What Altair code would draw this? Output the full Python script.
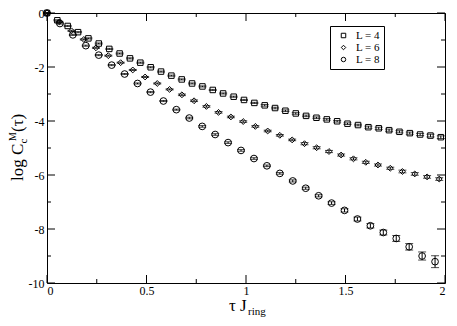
import altair as alt
import pandas as pd

# ---------------- data ----------------
series_names = ["L = 4", "L = 6", "L = 8"]
series_shapes = ["square", "diamond", "circle"]
series_sizes = [30, 34, 45]

x_L4 = [0, 0.052, 0.104, 0.156, 0.208, 0.26, 0.313, 0.365, 0.417, 0.469,
        0.521, 0.573, 0.625, 0.677, 0.729, 0.781, 0.833, 0.885, 0.938, 0.99,
        1.042, 1.094, 1.146, 1.198, 1.25, 1.302, 1.354, 1.406, 1.458, 1.51,
        1.563, 1.615, 1.667, 1.719, 1.771, 1.823, 1.875, 1.927, 1.979]
y_L4 = [0, -0.27, -0.48, -0.71, -0.94, -1.13, -1.33, -1.50, -1.68, -1.84,
        -2.01, -2.17, -2.32, -2.46, -2.61, -2.72, -2.85, -2.98, -3.10, -3.22,
        -3.33, -3.42, -3.52, -3.62, -3.72, -3.81, -3.88, -3.94, -4.01, -4.10,
        -4.15, -4.23, -4.27, -4.34, -4.40, -4.45, -4.50, -4.54, -4.60]
e_L4 = [0, 0.02, 0.02, 0.02, 0.02, 0.02, 0.02, 0.02, 0.02, 0.02,
        0.02, 0.02, 0.02, 0.02, 0.02, 0.02, 0.02, 0.02, 0.02, 0.02,
        0.02, 0.03, 0.03, 0.03, 0.03, 0.03, 0.03, 0.03, 0.03, 0.03,
        0.03, 0.04, 0.04, 0.04, 0.04, 0.04, 0.04, 0.05, 0.05]

x_L6 = [0, 0.062, 0.123, 0.185, 0.246, 0.308, 0.37, 0.431, 0.493, 0.554,
        0.616, 0.678, 0.739, 0.801, 0.862, 0.924, 0.986, 1.047, 1.109, 1.17,
        1.232, 1.294, 1.355, 1.417, 1.478, 1.54, 1.602, 1.663, 1.725, 1.786,
        1.848, 1.91, 1.971]
y_L6 = [0, -0.33, -0.66, -0.98, -1.29, -1.58, -1.84, -2.11, -2.37, -2.61,
        -2.83, -3.03, -3.25, -3.46, -3.68, -3.85, -4.02, -4.20, -4.37, -4.53,
        -4.70, -4.84, -4.99, -5.13, -5.26, -5.40, -5.53, -5.63, -5.75, -5.87,
        -5.96, -6.07, -6.15]
e_L6 = [0, 0.02, 0.02, 0.02, 0.02, 0.02, 0.02, 0.02, 0.02, 0.02,
        0.02, 0.03, 0.03, 0.03, 0.03, 0.03, 0.03, 0.03, 0.03, 0.03,
        0.03, 0.04, 0.04, 0.04, 0.04, 0.04, 0.04, 0.04, 0.04, 0.05,
        0.05, 0.05, 0.05]

x_L8 = [0, 0.065, 0.13, 0.195, 0.26, 0.325, 0.39, 0.455, 0.52, 0.585,
        0.65, 0.715, 0.78, 0.845, 0.91, 0.975, 1.04, 1.105, 1.17, 1.235,
        1.3, 1.365, 1.43, 1.495, 1.56, 1.625, 1.69, 1.755, 1.82, 1.885, 1.95]
y_L8 = [0, -0.39, -0.81, -1.21, -1.56, -1.93, -2.26, -2.61, -2.93, -3.26,
        -3.58, -3.89, -4.20, -4.50, -4.80, -5.09, -5.39, -5.66, -5.94, -6.22,
        -6.49, -6.77, -7.04, -7.31, -7.63, -7.88, -8.13, -8.35, -8.66, -9.00, -9.21]
e_L8 = [0, 0.02, 0.02, 0.02, 0.02, 0.02, 0.02, 0.02, 0.02, 0.02,
        0.02, 0.03, 0.03, 0.03, 0.03, 0.03, 0.03, 0.03, 0.03, 0.04,
        0.04, 0.04, 0.05, 0.06, 0.07, 0.08, 0.09, 0.11, 0.12, 0.15, 0.22]

x_major = [0, 0.5, 1, 1.5, 2]
x_minor = [0.25, 0.75, 1.25, 1.75]
y_major = [0, -2, -4, -6, -8, -10]
y_minor = [-1, -3, -5, -7, -9]

# ---------------- build table ----------------
frames = []
for name, sz, xs_, ys_, es_ in zip(series_names, series_sizes, [x_L4, x_L6, x_L8],
                                   [y_L4, y_L6, y_L8], [e_L4, e_L6, e_L8]):
    frames.append(pd.DataFrame({"series": name, "sz": sz, "x": xs_, "y": ys_, "e": es_}))
df = pd.concat(frames, ignore_index=True)
df["lo"] = df["y"] - df["e"]
df["hi"] = df["y"] + df["e"]

W, H = 398, 270
FONT = "Liberation Serif"

xs = alt.Scale(domain=[0, 2], nice=False, zero=False)
ys = alt.Scale(domain=[-10, 0], nice=False, zero=False)
AX = alt.Axis(values=x_major, labelExpr="'' + datum.value", ticks=False, domain=False,
              grid=False, labelPadding=2, labelFont=FONT, labelFontSize=12,
              labelColor="black")
AY = alt.Axis(values=y_major, labelExpr="'' + datum.value", ticks=False, domain=False,
              grid=False, labelPadding=3, labelFont=FONT, labelFontSize=12,
              labelColor="black")


def X(f):
    return alt.X(f, scale=xs, axis=AX, title=None)


def Y(f):
    return alt.Y(f, scale=ys, axis=AY, title=None)


base = alt.Chart(df)

points = base.mark_point(filled=False, strokeWidth=1, opacity=1, color="black").encode(
    x=X("x:Q"),
    y=Y("y:Q"),
    shape=alt.Shape("series:N",
                    scale=alt.Scale(domain=series_names, range=series_shapes),
                    legend=alt.Legend(title=None, orient="none", legendX=283, legendY=13,
                                      padding=4, strokeColor="black", fillColor="white",
                                      symbolSize=20, symbolStrokeWidth=1,
                                      symbolStrokeColor="black",
                                      symbolOffset=4, labelOffset=7, rowPadding=0,
                                      labelFont=FONT, labelFontSize=11,
                                      labelFontWeight="normal", labelColor="black")),
    size=alt.Size("sz:Q", scale=None),
)

err = base.mark_rule(color="black", strokeWidth=1).encode(
    x=X("x:Q"), y=Y("lo:Q"), y2="hi:Q")
cap_lo = base.mark_tick(color="black", orient="horizontal", size=8, thickness=1).encode(
    x=X("x:Q"), y=Y("lo:Q"))
cap_hi = base.mark_tick(color="black", orient="horizontal", size=8, thickness=1).encode(
    x=X("x:Q"), y=Y("hi:Q"))


# inner ticks on all four sides
def xticks(vals, length):
    d = alt.Chart(pd.DataFrame({"v": vals}))
    bot = d.mark_rule(color="black", strokeWidth=1).encode(
        x=X("v:Q"), y=alt.value(H), y2=alt.value(H - length))
    top = d.mark_rule(color="black", strokeWidth=1).encode(
        x=X("v:Q"), y=alt.value(0), y2=alt.value(length))
    return [bot, top]


def yticks(vals, length):
    d = alt.Chart(pd.DataFrame({"v": vals}))
    left = d.mark_rule(color="black", strokeWidth=1).encode(
        y=Y("v:Q"), x=alt.value(0), x2=alt.value(length))
    right = d.mark_rule(color="black", strokeWidth=1).encode(
        y=Y("v:Q"), x=alt.value(W), x2=alt.value(W - length))
    return [left, right]


ticks = xticks(x_major, 8) + xticks(x_minor, 4) + yticks(y_major, 8) + yticks(y_minor, 4)


# axis titles with sub/superscripts
def label(txt, x, y, size, angle=0):
    return alt.Chart(pd.DataFrame({"t": [txt]})).mark_text(
        font=FONT, fontSize=size, color="black", align="left", baseline="alphabetic",
        angle=angle).encode(text="t:N", x=alt.value(x), y=alt.value(y))


titles = [
    label("log C", -24, 168, 17, 270),
    label("c", -20, 130.5, 11, 270),
    label("M", -31, 128, 10, 270),
    label("(τ)", -24, 119, 17, 270),
    label("τ J", 182, 298, 17),
    label("ring", 201, 302, 11),
]

chart = alt.layer(points, err, cap_lo, cap_hi, *ticks, *titles).properties(
    width=W, height=H,
    autosize=alt.AutoSizeParams(type="none"),
    padding={"left": 39, "top": 5, "right": 4, "bottom": 35},
    background="white",
).configure_view(stroke="black", strokeWidth=1)

chart.save("out.html", embed_options={"renderer": "svg", "actions": False})
